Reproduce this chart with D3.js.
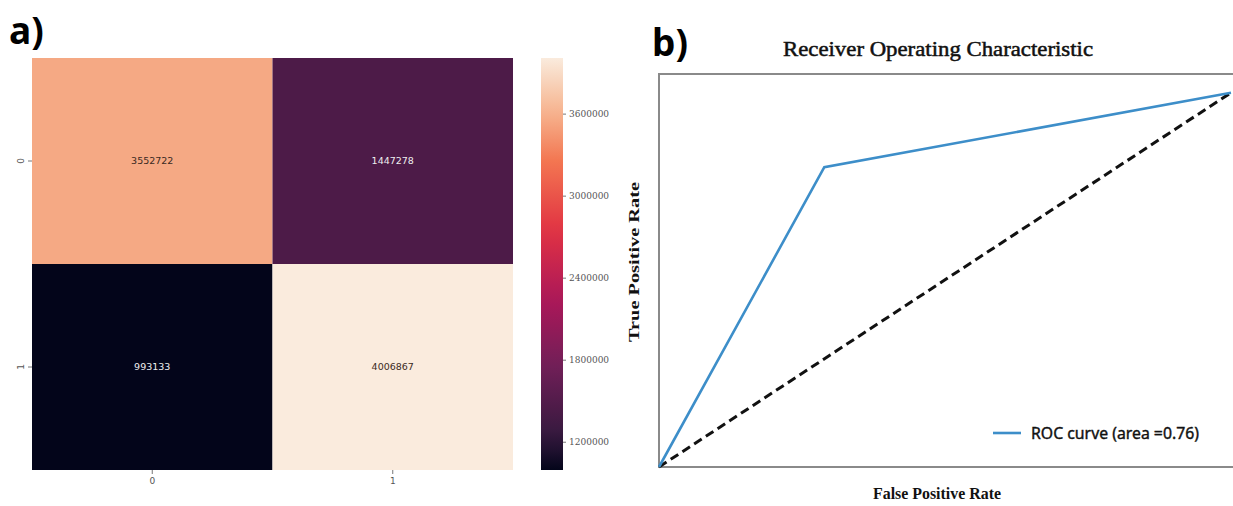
<!DOCTYPE html>
<html>
<head>
<meta charset="utf-8">
<script src="https://cdn.jsdelivr.net/npm/d3@7"></script>
<style>
  body { margin: 0; background: #fff; }
  svg { display: block; }
</style>
</head>
<body>
<svg id="chart" width="1233" height="506"></svg>
<script>
// confusion matrix (panel a)
const classes = ["0", "1"];
const cmRow0 = [3552722, 1447278];
const cmRow1 = [993133, 4006867];
const cbarTicks = [1200000, 1800000, 2400000, 3000000, 3600000];

// roc curve (panel b)
const fpr = [0, 0.289, 1];
const tpr = [0, 0.801, 1];
const chanceX = [0, 1];
const chanceY = [0, 1];
const rocLabel = "ROC curve (area =0.76)";

// seaborn "rocket" approximated by its palette stops (top end a bit lighter, like the picture)
const rocketPos = [0, 1 / 12, 3 / 12, 5 / 12, 7 / 12, 9 / 12, 0.87, 1];
const rocketCols = ["#03051a", "#35193e", "#701f57", "#ad1759", "#e13342", "#f37651", "#f6b48f", "#faebdd"];
const rocket = d3.scaleLinear().domain(rocketPos).range(rocketCols).interpolate(d3.interpolateRgb);

const svg = d3.select("#chart");

// ---------- panel a: heatmap ----------
const cm = [cmRow0, cmRow1];
const cells = [];
cm.forEach((row, i) => row.forEach((v, j) => cells.push({r: classes[i], c: classes[j], v: v})));

const hm = {left: 32, top: 58, right: 513, bottom: 470};
const x = d3.scaleBand().domain(classes).range([hm.left, hm.right]);
const y = d3.scaleBand().domain(classes).range([hm.top, hm.bottom]);

const vmin = d3.min(cells, d => d.v), vmax = d3.max(cells, d => d.v);
const norm = d3.scaleLinear().domain([vmin, vmax]).range([0, 1]);

svg.selectAll("rect.cell")
    .data(cells)
    .enter()
    .append("rect")
    .attr("class", "cell")
    .attr("x", d => x(d.c))
    .attr("y", d => y(d.r))
    .attr("width", x.bandwidth())
    .attr("height", y.bandwidth())
    .attr("fill", d => rocket(norm(d.v)));

svg.selectAll("text.cell")
    .data(cells)
    .enter()
    .append("text")
    .attr("x", d => x(d.c) + x.bandwidth() / 2)
    .attr("y", d => y(d.r) + y.bandwidth() / 2 + 3)
    .attr("text-anchor", "middle")
    .style("font-family", "DejaVu Sans")
    .style("font-size", "9.5px")
    .attr("fill", d => norm(d.v) > 0.5 ? "#3a2a22" : "#eee")
    .text(d => d.v);

// x axis
const xAxis = svg.append("g")
    .attr("transform", `translate(0,${hm.bottom})`)
    .call(d3.axisBottom(x).tickSize(4).tickPadding(4));
xAxis.select(".domain").remove();
xAxis.selectAll("line").attr("stroke", "#777");
xAxis.selectAll("text").style("font-family", "DejaVu Sans").style("font-size", "9px").attr("fill", "#555");

// y axis, labels turned like seaborn does
const yAxis = svg.append("g")
    .attr("transform", `translate(${hm.left},0)`)
    .call(d3.axisLeft(y).tickSize(4).tickPadding(4));
yAxis.select(".domain").remove();
yAxis.selectAll("line").attr("stroke", "#777");
yAxis.selectAll("text")
    .style("font-family", "DejaVu Sans").style("font-size", "9px").attr("fill", "#555")
    .attr("text-anchor", "middle")
    .attr("transform", "rotate(-90)")
    .attr("x", 0)
    .attr("y", -11)
    .attr("dy", "0.35em");

// colorbar
const cb = {left: 541, width: 22, top: 58, bottom: 470};
const defs = svg.append("defs");
const grad = defs.append("linearGradient")
    .attr("id", "cbar")
    .attr("x1", 0).attr("y1", 1).attr("x2", 0).attr("y2", 0);
d3.range(0, 1.0001, 0.05).forEach(t => {
    grad.append("stop").attr("offset", t).attr("stop-color", rocket(t));
});
svg.append("rect")
    .attr("x", cb.left).attr("y", cb.top)
    .attr("width", cb.width).attr("height", cb.bottom - cb.top)
    .attr("fill", "url(#cbar)");
const cbScale = d3.scaleLinear().domain([vmin, vmax]).range([cb.bottom, cb.top]);
const cbAxis = svg.append("g")
    .attr("transform", `translate(${cb.left + cb.width},0)`)
    .call(d3.axisRight(cbScale).tickValues(cbarTicks).tickFormat(d3.format("d")).tickSize(3).tickPadding(3));
cbAxis.select(".domain").remove();
cbAxis.selectAll("line").attr("stroke", "#777");
cbAxis.selectAll("text").style("font-family", "DejaVu Serif").style("font-size", "9px").attr("fill", "#555");

svg.append("text")
    .attr("x", 9).attr("y", 44)
    .style("font-family", "Noto Sans").style("font-weight", "bold").style("font-size", "37px")
    .attr("fill", "#000")
    .text("a)");

// ---------- panel b: roc ----------
const roc = {left: 659, top: 74, right: 1231, bottom: 467};
const rx = d3.scaleLinear().domain([0, 1]).range([roc.left, roc.right]);
const ry = d3.scaleLinear().domain([0, 1.05]).range([roc.bottom, roc.top]);

svg.append("rect")
    .attr("x", roc.left).attr("y", roc.top)
    .attr("width", roc.right - roc.left + 6).attr("height", roc.bottom - roc.top)
    .attr("fill", "none").attr("stroke", "#8a8a8a").attr("stroke-width", 2);

const line = d3.line().x(d => rx(d[0])).y(d => ry(d[1]));

svg.append("path")
    .datum(chanceX.map((v, i) => [v, chanceY[i]]))
    .attr("fill", "none")
    .attr("stroke", "#111")
    .attr("stroke-width", 3)
    .attr("stroke-dasharray", "9,5")
    .attr("d", line);

svg.append("path")
    .datum(fpr.map((v, i) => [v, tpr[i]]))
    .attr("fill", "none")
    .attr("stroke", "#3d8ec9")
    .attr("stroke-width", 2.6)
    .attr("d", line);

svg.append("text")
    .attr("x", 938).attr("y", 56)
    .attr("text-anchor", "middle")
    .style("font-family", "Liberation Serif").style("font-size", "21px")
    .attr("textLength", 310).attr("lengthAdjust", "spacingAndGlyphs")
    .attr("fill", "#111").attr("stroke", "#111").attr("stroke-width", 0.5)
    .text("Receiver Operating Characteristic");

svg.append("text")
    .attr("transform", `translate(639,262) rotate(-90)`)
    .attr("text-anchor", "middle")
    .style("font-family", "Liberation Serif").style("font-weight", "bold").style("font-size", "15px")
    .attr("textLength", 160).attr("lengthAdjust", "spacingAndGlyphs")
    .attr("fill", "#111")
    .text("True Positive Rate");

svg.append("text")
    .attr("x", 937).attr("y", 499)
    .attr("text-anchor", "middle")
    .style("font-family", "Liberation Serif").style("font-weight", "bold").style("font-size", "16px")
    .attr("textLength", 128).attr("lengthAdjust", "spacingAndGlyphs")
    .attr("fill", "#111")
    .text("False Positive Rate");

// legend
const legend = svg.append("g").attr("transform", "translate(993,433)");
legend.append("line")
    .attr("x1", 0).attr("x2", 28).attr("y1", 0).attr("y2", 0)
    .attr("stroke", "#3d8ec9").attr("stroke-width", 2.6);
legend.append("text")
    .attr("x", 38).attr("y", 6)
    .style("font-family", "Noto Sans").style("font-size", "16px")
    .attr("textLength", 168).attr("lengthAdjust", "spacingAndGlyphs")
    .attr("fill", "#111").attr("stroke", "#111").attr("stroke-width", 0.4)
    .text(rocLabel);

svg.append("text")
    .attr("x", 652).attr("y", 56)
    .style("font-family", "Noto Sans").style("font-weight", "bold").style("font-size", "37px")
    .attr("fill", "#000")
    .text("b)");
</script>
</body>
</html>
